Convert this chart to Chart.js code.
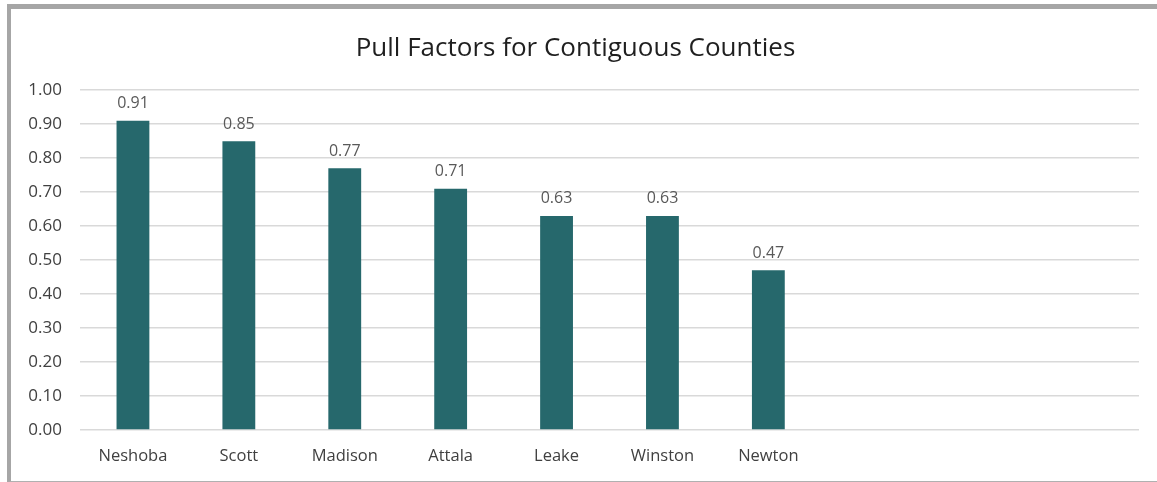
<!DOCTYPE html>
<html>
<head>
<meta charset="utf-8">
<script src="https://cdn.jsdelivr.net/npm/chart.js@4.4.1/dist/chart.umd.min.js"></script>
<style>
	html, body { margin: 0; padding: 0; background: #fff; }
	#wrap { position: relative; width: 1157px; height: 482px; overflow: hidden; }
	#frame {
		position: absolute; left: 7px; top: 4px; width: 1170px; height: 472px;
		border-left: 4px solid #a6a6a6; border-top: 5px solid #a6a6a6; border-bottom: 2px solid #b0b0b0;
		pointer-events: none;
	}
	canvas { position: absolute; left: 0; top: 0; }
</style>
</head>
<body>
<div id="wrap">
	<canvas id="pullChart" width="1157" height="482"></canvas>
	<div id="frame"></div>
</div>
<script>
// 데이터
var counties = ['Neshoba', 'Scott', 'Madison', 'Attala', 'Leake', 'Winston', 'Newton', '', '', ''];
var pullFactors = [0.91, 0.85, 0.77, 0.71, 0.63, 0.63, 0.47, null, null, null];
var yTicks = [0, 0.1, 0.2, 0.3, 0.4, 0.5, 0.6, 0.7, 0.8, 0.9, 1.0];

var FONT = '"Open Sans", "Liberation Sans", sans-serif';
var TEXT_GRAY = '#595959';
var TICK_GRAY = '#404040';

// 막대 위에 값 표시
var valueLabels = {
	id: 'valueLabels',
	afterDatasetsDraw: function(chart) {
		var ctx = chart.ctx;
		var meta = chart.getDatasetMeta(0);
		ctx.save();
		ctx.font = '16px ' + FONT;
		ctx.fillStyle = TEXT_GRAY;
		ctx.textAlign = 'center';
		ctx.textBaseline = 'bottom';
		meta.data.forEach(function(bar, i) {
			var v = pullFactors[i];
			if (v === null) return;
			ctx.fillText(v.toFixed(2), bar.x, bar.y - 9);
		});
		ctx.restore();
	}
};

var ctx = document.getElementById('pullChart').getContext('2d');
var pull_chart = new Chart(ctx, {
	type: 'bar',
	data: {
		labels: counties,
		datasets: [{
			label: 'Pull Factor',
			data: pullFactors,
			backgroundColor: '#26686c',
			categoryPercentage: 1.0,
			barPercentage: 0.31
		}]
	},
	options: {
		responsive: false,
		animation: false,
		layout: {
			padding: { left: 12, right: 18, top: 0, bottom: 0 }
		},
		scales: {
			x: {
				grid: { display: false, drawTicks: false },
				border: { display: false },
				ticks: {
					color: TICK_GRAY,
					font: { family: FONT, size: 16.5 },
					padding: 16,
					autoSkip: false,
					maxRotation: 0
				},
				afterFit: function(scale) { scale.height = 52; }
			},
			y: {
				min: 0,
				max: 1,
				afterBuildTicks: function(scale) {
					scale.ticks = yTicks.map(function(v) { return { value: v }; });
				},
				grid: { color: '#d9d9d9', lineWidth: 1.5, drawTicks: false },
				border: { display: false },
				ticks: {
					color: TICK_GRAY,
					font: { family: FONT, size: 17 },
					padding: 18,
					callback: function(v) { return Number(v).toFixed(2); }
				},
				afterFit: function(scale) { scale.width = 68; }
			}
		},
		plugins: {
			legend: { display: false },
			tooltip: { enabled: false },
			title: {
				display: true,
				text: 'Pull Factors for Contiguous Counties',
				color: '#1f1f1f',
				font: { family: FONT, size: 26, weight: 'normal' },
				padding: { top: 33, bottom: 26 }
			}
		}
	},
	plugins: [valueLabels]
});
</script>
</body>
</html>
